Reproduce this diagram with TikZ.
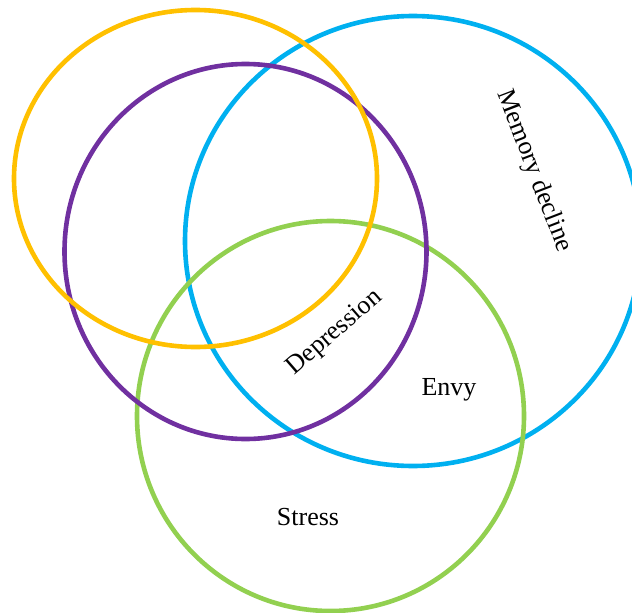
\documentclass[tikz,border=0pt]{standalone}
\usepackage{fontspec}
\setmainfont{Liberation Serif}
\definecolor{cyellow}{HTML}{FFC000}
\definecolor{cpurple}{HTML}{7030A0}
\definecolor{cblue}{HTML}{00B0F0}
\definecolor{cgreen}{HTML}{92D050}
\tikzset{
  ring/.style={line width=4.6pt},
  lbl/.style={font=\fontsize{26}{30}\selectfont, inner sep=0pt}
}
\begin{document}
\begin{tikzpicture}[x=1pt,y=-1pt]
\useasboundingbox (0,0) rectangle (632,613);
\draw[ring, cblue] (413,241) ellipse [x radius=228, y radius=225];
\draw[ring, cgreen] (330.5,416) ellipse [x radius=193.5, y radius=195];
\draw[ring, cpurple] (245.5,251.5) ellipse [x radius=181, y radius=187.5];
\draw[ring, cyellow] (195.5,178.5) ellipse [x radius=181.5, y radius=168.5];
\node[lbl, rotate=-69] (mem) at (534,171) {Memory decline};
\node[lbl, rotate=41] (dep) at (335,333) {Depression};
\node[lbl, anchor=base] (envy) at (449,395) {Envy};
\node[lbl, anchor=base] (stress) at (308,525) {Stress};
\end{tikzpicture}
\end{document}
